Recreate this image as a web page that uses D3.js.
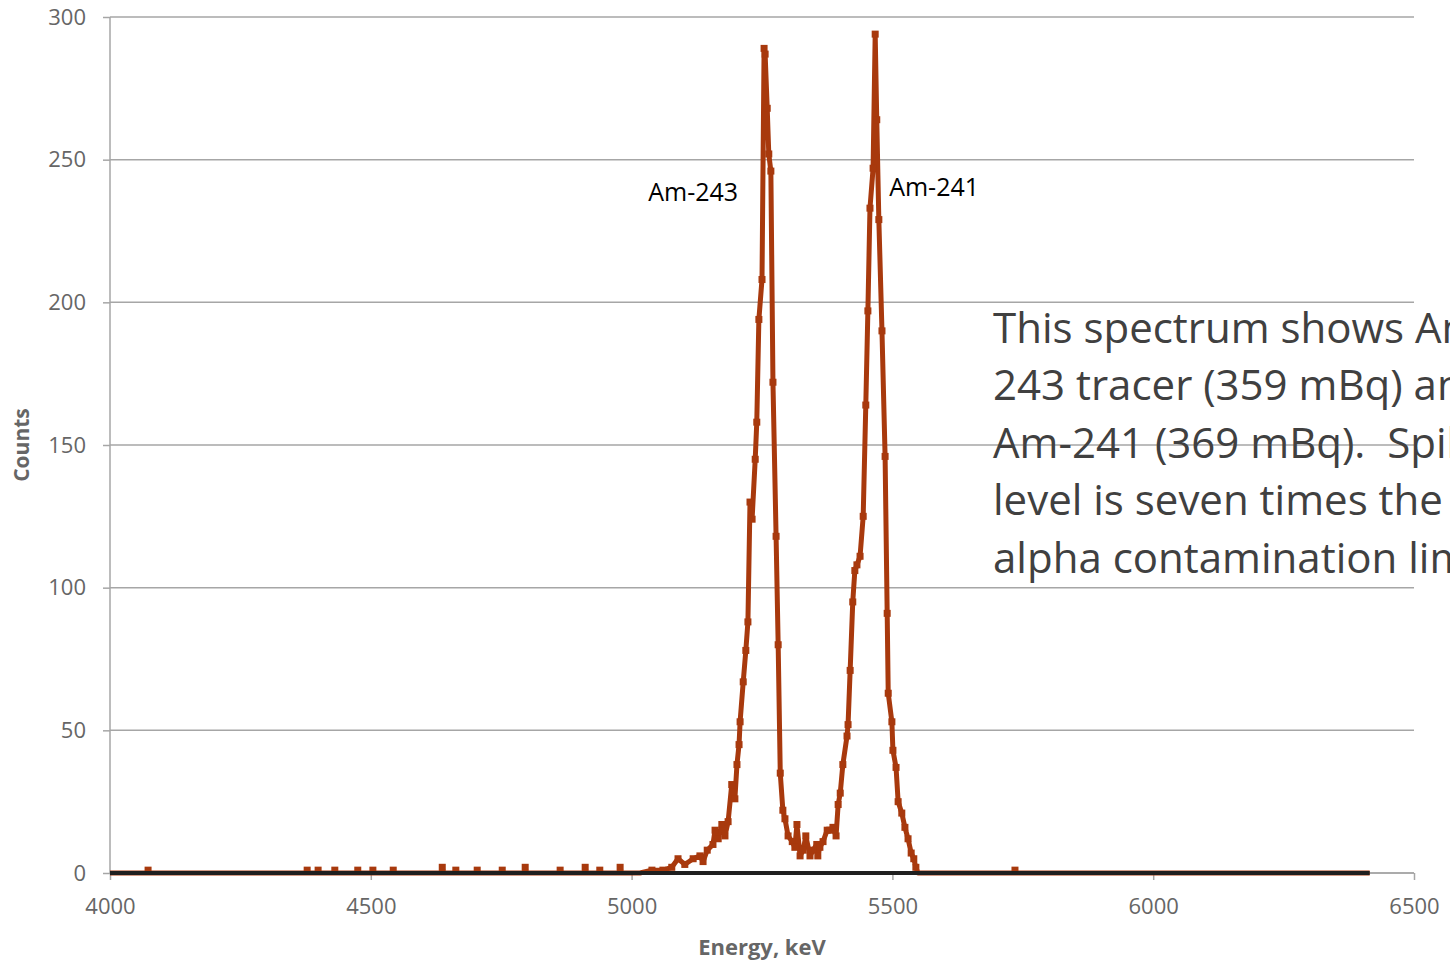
<!DOCTYPE html>
<html>
<head>
<meta charset="utf-8">
<script src="https://cdn.jsdelivr.net/npm/d3@7"></script>
<style>
  body { margin: 0; background: #fff; overflow: hidden; }
  svg { display: block; }
</style>
</head>
<body>
<div id="chart-area"></div>
<script>
// alpha spectrum, Am-243 tracer + Am-241

// peak region (keV, counts)
const peakEnergy = [5016, 5039, 5060, 5077, 5089, 5102, 5118, 5131, 5137, 5145,
  5156, 5160, 5166, 5173, 5179, 5185, 5192, 5198, 5202, 5206,
  5208, 5214, 5219, 5223, 5227, 5231, 5237, 5240, 5244, 5250,
  5254, 5256, 5260, 5263, 5267, 5271, 5277, 5281, 5285, 5290,
  5294, 5300, 5308, 5313, 5317, 5323, 5329, 5334, 5342, 5348,
  5355, 5357, 5361, 5367, 5375, 5380, 5386, 5392, 5396, 5400,
  5405, 5413, 5415, 5419, 5424, 5428, 5432, 5438, 5444, 5449,
  5453, 5457, 5463, 5467, 5470, 5474, 5480, 5486, 5490, 5492,
  5499, 5501, 5507, 5511, 5518, 5524, 5530, 5536, 5541, 5545, 5549];
const peakCounts = [0, 1, 1, 2, 5, 3, 5, 6, 4, 8,
  10, 15, 12, 17, 13, 18, 31, 26, 38, 45,
  53, 67, 78, 88, 130, 124, 145, 158, 194, 208,
  289, 287, 268, 252, 246, 172, 118, 80, 35, 22,
  19, 13, 11, 9, 17, 6, 8, 13, 6, 8,
  10, 6, 9, 11, 15, 15, 16, 13, 24, 28,
  38, 48, 52, 71, 95, 106, 108, 111, 125, 164,
  197, 233, 247, 294, 264, 229, 190, 146, 91, 63,
  53, 43, 37, 25, 21, 16, 12, 7, 5, 2, 0];

// single stray counts on the flat baseline
const strayEnergy = [4073, 4378, 4399, 4431, 4475, 4504, 4543, 4637, 4663, 4704,
  4752, 4796, 4863, 4911, 4939, 4978, 5735];
const strayCounts = [1, 1, 1, 1, 1, 1, 1, 2, 1, 1,
  1, 2, 1, 2, 1, 2, 1];

const energyStart = 4000, energyEnd = 6415;

// blank run, flat at zero
const blankEnergy = [4000, 6415];
const blankCounts = [0, 0];

const yTicks = [0, 50, 100, 150, 200, 250, 300];
const xTicks = [4000, 4500, 5000, 5500, 6000, 6500];

// the note in the picture runs past the right edge and is cut there
const noteLines = ["This spectrum shows Am-", "243 tracer (359 mBq) and",
  "Am-241 (369 mBq).  Spike", "level is seven times the", "alpha contamination limit."];

// layout
const totalWidth = 1450, totalHeight = 966;
const margin = {LEFT: 110, TOP: 17, RIGHT: 36, BOTTOM: 93};
const width = totalWidth - margin.LEFT - margin.RIGHT,
      height = totalHeight - margin.TOP - margin.BOTTOM;

const specColor = "#a8390d";
const gridColor = "#a6a6a6";
const labelColor = "#666666";
const font = "'Open Sans', Carlito, Lato, sans-serif";

// build the sample series: baseline, strays, peaks
let spectrum = [[energyStart, 0]];
strayEnergy.forEach(function(e, i){
	if (e < peakEnergy[0]) {
		spectrum.push([e - 2, 0], [e, strayCounts[i]], [e + 2, 0]);
	}
});
peakEnergy.forEach(function(e, i){ spectrum.push([e, peakCounts[i]]); });
strayEnergy.forEach(function(e, i){
	if (e > peakEnergy[peakEnergy.length - 1]) {
		spectrum.push([e - 2, 0], [e, strayCounts[i]], [e + 2, 0]);
	}
});
spectrum.push([energyEnd, 0]);

let blank = blankEnergy.map(function(e, i){ return [e, blankCounts[i]]; });

let svg = d3.select("#chart-area").append("svg")
	.attr("width", totalWidth)
	.attr("height", totalHeight);

let x = d3.scaleLinear().domain([4000, 6500]).range([0, width]);
let y = d3.scaleLinear().domain([0, 300]).range([height, 0]);

let chart = svg.append("g")
	.attr("transform", `translate(${margin.LEFT}, ${margin.TOP})`);

// gridlines
chart.append("g")
	.selectAll("line")
	.data(yTicks)
	.enter()
	.append("line")
	.attr("x1", 0)
	.attr("x2", width)
	.attr("y1", function(d){ return y(d); })
	.attr("y2", function(d){ return y(d); })
	.attr("stroke", gridColor)
	.attr("stroke-width", 1.5);

// axes
let axisL = d3.axisLeft(y).tickValues(yTicks).tickSize(7).tickPadding(17);
let axisB = d3.axisBottom(x).tickValues(xTicks).tickSize(7).tickPadding(18)
	.tickFormat(d3.format("d"));

let gL = chart.append("g").call(axisL);
let gB = chart.append("g").attr("transform", `translate(0,${height})`).call(axisB);

[gL, gB].forEach(function(g){
	g.select(".domain").attr("stroke", gridColor).attr("stroke-width", 1.5);
	g.selectAll(".tick line").attr("stroke", gridColor).attr("stroke-width", 1.5);
	g.selectAll(".tick text")
		.attr("fill", labelColor)
		.attr("font-family", font)
		.attr("font-size", "22px");
});
gB.select(".domain").attr("d", `M0,0H${width}`);
gL.select(".domain").attr("d", `M0,0V${height}`);

// the spectrum
let line = d3.line()
	.x(function(d){ return x(d[0]); })
	.y(function(d){ return y(d[1]); });

chart.append("path")
	.datum(spectrum)
	.attr("d", line)
	.attr("fill", "none")
	.attr("stroke", specColor)
	.attr("stroke-width", 5)
	.attr("stroke-linejoin", "round");

chart.append("g")
	.selectAll("rect")
	.data(spectrum.filter(function(d){ return d[1] > 0; }))
	.enter()
	.append("rect")
	.attr("x", function(d){ return x(d[0]) - 3.5; })
	.attr("y", function(d){ return y(d[1]) - 3.5; })
	.attr("width", 7)
	.attr("height", 7)
	.attr("fill", specColor);

chart.append("path")
	.datum(blank)
	.attr("d", line)
	.attr("fill", "none")
	.attr("stroke", "#1f1f1f")
	.attr("stroke-width", 4);

// peak names
chart.append("text")
	.attr("x", x(5118)).attr("y", y(235.5))
	.attr("font-family", font).attr("font-size", "25px").attr("fill", "#000")
	.attr("text-anchor", "middle")
	.text("Am-243");
chart.append("text")
	.attr("x", x(5580)).attr("y", y(237.3))
	.attr("font-family", font).attr("font-size", "25px").attr("fill", "#000")
	.attr("text-anchor", "middle")
	.text("Am-241");

// axis titles
svg.append("text")
	.attr("x", -445).attr("y", 29)
	.attr("transform", "rotate(-90)")
	.attr("text-anchor", "middle")
	.attr("font-family", font).attr("font-weight", "bold")
	.attr("font-size", "21px").attr("fill", labelColor)
	.text("Counts");
svg.append("text")
	.attr("x", 762).attr("y", 955)
	.attr("text-anchor", "middle")
	.attr("font-family", font).attr("font-weight", "bold")
	.attr("font-size", "22px").attr("fill", labelColor)
	.text("Energy, keV");

// note box
let note = svg.append("text")
	.attr("font-family", font)
	.attr("font-size", "42px")
	.attr("fill", "#404040")
	.style("white-space", "pre");
note.selectAll("tspan")
	.data(noteLines)
	.enter()
	.append("tspan")
	.attr("x", 993)
	.attr("y", function(d, i){ return 343 + i * 57.4; })
	.text(function(d){ return d; });
</script>
</body>
</html>
